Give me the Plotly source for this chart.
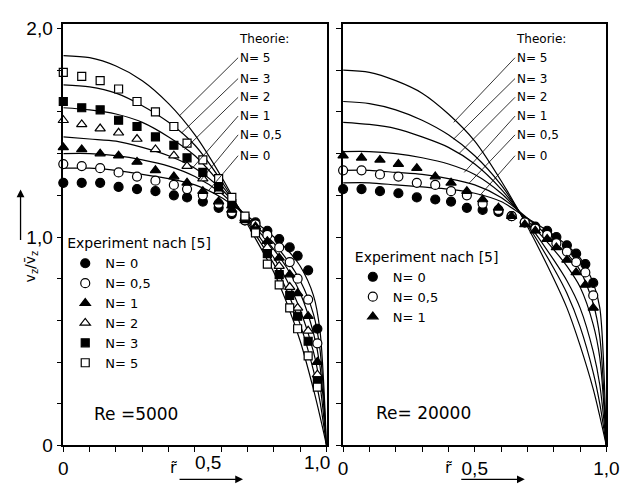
import plotly.graph_objects as go

# ---------------- data ----------------
r_theory = [0, 0.1, 0.2, 0.3, 0.4, 0.5, 0.6, 0.7, 0.8, 0.85, 0.9, 0.95, 0.975, 1.0]

# Re = 5000, theory
th5k_N5 = [1.87, 1.86, 1.82, 1.75, 1.64, 1.49, 1.29, 1.06, 0.83, 0.68, 0.50, 0.27, 0.14, 0]
th5k_N3 = [1.73, 1.72, 1.69, 1.63, 1.55, 1.44, 1.27, 1.07, 0.87, 0.74, 0.58, 0.36, 0.21, 0]
th5k_N2 = [1.62, 1.61, 1.59, 1.55, 1.48, 1.39, 1.25, 1.08, 0.90, 0.79, 0.65, 0.45, 0.29, 0]
th5k_N1 = [1.48, 1.47, 1.46, 1.43, 1.39, 1.33, 1.23, 1.09, 0.94, 0.85, 0.73, 0.54, 0.38, 0]
th5k_N05 = [1.40, 1.40, 1.39, 1.37, 1.34, 1.29, 1.21, 1.09, 0.97, 0.89, 0.79, 0.63, 0.46, 0]
th5k_N0 = [1.33, 1.33, 1.32, 1.30, 1.28, 1.25, 1.19, 1.10, 1.00, 0.94, 0.86, 0.72, 0.55, 0]

# Re = 20000, theory
th20k_N5 = [1.80, 1.79, 1.75, 1.69, 1.59, 1.46, 1.27, 1.05, 0.80, 0.66, 0.48, 0.27, 0.14, 0]
th20k_N3 = [1.65, 1.64, 1.61, 1.56, 1.49, 1.39, 1.25, 1.06, 0.85, 0.73, 0.57, 0.35, 0.20, 0]
th20k_N2 = [1.55, 1.54, 1.52, 1.48, 1.43, 1.35, 1.23, 1.07, 0.89, 0.79, 0.66, 0.45, 0.29, 0]
th20k_N1 = [1.41, 1.41, 1.40, 1.38, 1.35, 1.30, 1.21, 1.08, 0.94, 0.86, 0.76, 0.58, 0.42, 0]
th20k_N05 = [1.32, 1.32, 1.31, 1.30, 1.28, 1.25, 1.19, 1.09, 0.98, 0.92, 0.84, 0.68, 0.52, 0]
th20k_N0 = [1.26, 1.26, 1.25, 1.24, 1.23, 1.21, 1.17, 1.09, 1.01, 0.96, 0.90, 0.78, 0.66, 0]

# Re = 5000, experiment
r_exp5k = [0, 0.07, 0.14, 0.21, 0.28, 0.35, 0.42, 0.47, 0.53, 0.59, 0.64, 0.69, 0.73,
           0.775, 0.82, 0.86, 0.89, 0.93, 0.965]
ex5k_N0 = [1.26, 1.26, 1.26, 1.24, 1.23, 1.22, 1.20, 1.19, 1.17, 1.14, 1.11, 1.08, 1.07,
           1.03, 0.99, 0.95, 0.91, 0.84, 0.56]
ex5k_N05 = [1.35, 1.34, 1.33, 1.31, 1.29, 1.27, 1.25, 1.23, 1.20, 1.16, 1.12, 1.08, 1.06,
            1.01, 0.95, 0.88, 0.80, 0.70, 0.49]
ex5k_N1 = [1.43, 1.42, 1.40, 1.39, 1.36, 1.32, 1.29, 1.26, 1.22, 1.17, 1.13, 1.08, 1.05,
           0.98, 0.90, 0.82, 0.73, 0.62, 0.40]
ex5k_N2 = [1.56, 1.54, 1.52, 1.50, 1.47, 1.42, 1.39, 1.34, 1.28, 1.22, 1.15, 1.09, 1.04,
           0.95, 0.86, 0.76, 0.66, 0.55, 0.34]
ex5k_N3 = [1.65, 1.62, 1.61, 1.56, 1.53, 1.48, 1.44, 1.38, 1.31, 1.24, 1.16, 1.09, 1.03,
           0.92, 0.82, 0.72, 0.62, 0.50, 0.31]
ex5k_N5 = [1.79, 1.77, 1.75, 1.71, 1.65, 1.60, 1.53, 1.45, 1.37, 1.28, 1.19, 1.10, 1.02,
           0.87, 0.77, 0.66, 0.56, 0.43, 0.28]

# Re = 20000, experiment
r_exp20k = [0, 0.07, 0.14, 0.21, 0.28, 0.35, 0.41, 0.47, 0.53, 0.59, 0.64, 0.69, 0.73,
            0.775, 0.81, 0.85, 0.885, 0.92, 0.95]
ex20k_N0 = [1.23, 1.23, 1.22, 1.21, 1.19, 1.18, 1.17, 1.14, 1.13, 1.12, 1.10, 1.07, 1.05,
            1.03, 1.00, 0.96, 0.92, 0.87, 0.78]
ex20k_N05 = [1.32, 1.32, 1.30, 1.29, 1.26, 1.25, 1.22, 1.20, 1.16, 1.13, 1.10, 1.07, 1.04,
             1.01, 0.97, 0.93, 0.88, 0.83, 0.72]
ex20k_N1 = [1.39, 1.38, 1.37, 1.35, 1.33, 1.29, 1.26, 1.22, 1.18, 1.14, 1.10, 1.06, 1.03,
            0.99, 0.95, 0.89, 0.83, 0.77, 0.66]

legend_labels = ["N= 0", "N= 0,5", "N= 1", "N= 2", "N= 3", "N= 5"]
theory_labels = ["N= 5", "N= 3", "N= 2", "N= 1", "N= 0,5", "N= 0"]

x_tickvals = [0, 0.1, 0.2, 0.3, 0.4, 0.5, 0.6, 0.7, 0.8, 0.9, 1.0]
x_ticktext = ["0", "", "", "", "", "0,5", "", "", "", "", "1,0"]
x_ticktext_left = ["0", "", "", "", "", "", "", "", "", "", ""]
y_tickvals = [0, 0.2, 0.4, 0.6, 0.8, 1.0, 1.2, 1.4, 1.6, 1.8, 2.0]
y_ticktext = ["0", "", "", "", "", "1,0", "", "", "", "", "2,0"]

# ---------------- figure ----------------
FONT = "DejaVu Sans, Verdana, sans-serif"
TICKFONT = "Liberation Sans Narrow, Liberation Sans, Arial, sans-serif"
W, H = 633, 499
fig = go.Figure()

def theory(xa, ya, ys):
    fig.add_trace(go.Scatter(x=r_theory, y=ys, mode="lines", xaxis=xa, yaxis=ya,
                             line=dict(color="black", width=1.2, shape="spline", smoothing=0.8),
                             showlegend=False, hoverinfo="skip", cliponaxis=False))

for ys in [th5k_N5, th5k_N3, th5k_N2, th5k_N1, th5k_N05, th5k_N0]:
    theory("x", "y", ys)
for ys in [th20k_N5, th20k_N3, th20k_N2, th20k_N1, th20k_N05, th20k_N0]:
    theory("x2", "y2", ys)

styles = [
    ("circle", "black", 9),
    ("circle", "white", 9),
    ("triangle-up", "black", 9),
    ("triangle-up", "white", 9),
    ("square", "black", 8),
    ("square", "white", 8),
]

exp5k = [ex5k_N0, ex5k_N05, ex5k_N1, ex5k_N2, ex5k_N3, ex5k_N5]
for (sym, col, sz), ys, name in zip(styles, exp5k, legend_labels):
    fig.add_trace(go.Scatter(x=r_exp5k, y=ys, mode="markers", name=name, xaxis="x", yaxis="y",
                             marker=dict(symbol=sym, color=col, size=sz,
                                         line=dict(color="black", width=1.2)),
                             legend="legend", cliponaxis=False))

exp20k = [ex20k_N0, ex20k_N05, ex20k_N1]
for (sym, col, sz), ys, name in zip(styles[:3], exp20k, legend_labels[:3]):
    fig.add_trace(go.Scatter(x=r_exp20k, y=ys, mode="markers", name=name, xaxis="x2", yaxis="y2",
                             marker=dict(symbol=sym, color=col, size=sz,
                                         line=dict(color="black", width=1.2)),
                             legend="legend2", cliponaxis=False))

axis_common = dict(showline=True, linecolor="black", linewidth=1.5, mirror=True,
                   ticks="outside", ticklen=5, tickwidth=1, tickcolor="black",
                   showgrid=False, zeroline=False,
                   tickfont=dict(family=TICKFONT, size=19, color="black"))

legend_common = dict(xanchor="left", yanchor="top", bgcolor="rgba(0,0,0,0)",
                     font=dict(family=FONT, size=13),
                     title=dict(text="Experiment nach [5]", font=dict(family=FONT, size=14)),
                     itemclick=False, itemdoubleclick=False, tracegroupgap=0)

fig.update_layout(
    autosize=True,
    margin=dict(l=0, r=0, t=0, b=0),
    paper_bgcolor="white", plot_bgcolor="white",
    font=dict(family=FONT, color="black"),
    xaxis=dict(domain=[60 / W, 331 / W], range=[0, 1.0], anchor="y",
               tickvals=x_tickvals, ticktext=x_ticktext_left, **axis_common),
    yaxis=dict(domain=[1 - 455 / H, 1 - 19 / H], range=[0, 2.02], anchor="x",
               tickvals=y_tickvals, ticktext=y_ticktext, **axis_common),
    xaxis2=dict(domain=[348 / W, 619 / W], range=[0, 1.0], anchor="y2",
                tickvals=x_tickvals, ticktext=x_ticktext, **axis_common),
    yaxis2=dict(domain=[1 - 455 / H, 1 - 19 / H], range=[0, 2.02], anchor="x2",
                tickvals=y_tickvals, ticktext=[""] * len(y_tickvals), **axis_common),
    legend=dict(x=62 / W, y=1 - 232 / H, **legend_common),
    legend2=dict(x=358 / W, y=1 - 246 / H, **legend_common),
)

ann = []
# left-panel "0,5" and "1,0" labels sit slightly off their ticks (as in the original)
ann.append(dict(x=0.5, y=1 - 460 / H, xref="x", yref="paper", text="0,5", showarrow=False,
                xanchor="left", yanchor="top", xshift=-2,
                font=dict(family=TICKFONT, size=19)))
ann.append(dict(x=1.0, y=1 - 460 / H, xref="x", yref="paper", text="1,0", showarrow=False,
                xanchor="right", yanchor="top", xshift=5,
                font=dict(family=TICKFONT, size=19)))

# Theory labels with leader lines
lab_y = [1.86, 1.76, 1.67, 1.58, 1.49, 1.39]
tips5k = [(0.44, 1.58), (0.45, 1.50), (0.46, 1.42), (0.49, 1.33), (0.52, 1.27), (0.55, 1.22)]
tips20k = [(0.42, 1.55), (0.42, 1.47), (0.44, 1.40), (0.46, 1.31), (0.48, 1.26), (0.52, 1.20)]
for (xa, ya, lx, tips) in [("x", "y", 0.664, tips5k), ("x2", "y2", 0.653, tips20k)]:
    ann.append(dict(x=lx - 0.005, y=1.95, xref=xa, yref=ya, text="Theorie:", showarrow=False,
                    xanchor="left", yanchor="middle", font=dict(family=FONT, size=12)))
    for t, ly, (tx, ty) in zip(theory_labels, lab_y, tips):
        ann.append(dict(x=tx, y=ty, xref=xa, yref=ya, ax=lx, ay=ly, axref=xa, ayref=ya,
                        text=t, showarrow=True, arrowhead=0, arrowwidth=0.8,
                        arrowcolor="black", xanchor="left", yanchor="middle",
                        font=dict(family=FONT, size=12)))

ann.append(dict(x=0.11, y=0.153, xref="x", yref="y", text="Re =5000", showarrow=False,
                xanchor="left", yanchor="middle", font=dict(family=FONT, size=17)))
ann.append(dict(x=0.118, y=0.157, xref="x2", yref="y2", text="Re= 20000", showarrow=False,
                xanchor="left", yanchor="middle", font=dict(family=FONT, size=17)))

# axis titles with arrows
ann.append(dict(x=15 / W, y=1 - 270 / H, xref="paper", yref="paper",
                text="v<sub>z</sub>/v\u0304<sub>z</sub>", textangle=-90, showarrow=False,
                font=dict(family=FONT, size=14)))
ann.append(dict(x=16 / W, y=1 - 190 / H, xref="paper", yref="paper", text="",
                showarrow=True, ax=0, ay=52, arrowhead=2, arrowsize=1.2, arrowwidth=1.3,
                arrowcolor="black"))
for cx, ax0 in [(168, 245), (462, 535)]:
    ann.append(dict(x=cx / W, y=1 - 490 / H, xref="paper", yref="paper",
                    text="r\u0303", showarrow=False, font=dict(family=FONT, size=16)))
    ann.append(dict(x=ax0 / W, y=1 - 490 / H, xref="paper", yref="paper", text="",
                    showarrow=True, ax=-65, ay=0, arrowhead=2, arrowsize=1.2, arrowwidth=1.3,
                    arrowcolor="black"))

fig.update_layout(annotations=ann)
fig.write_html("out.html",
               default_width="100vw", default_height="100vh",
               config={"displayModeBar": False, "responsive": True},
               post_script="document.body.style.margin='0px';"
                           "document.documentElement.style.overflow='hidden';"
                           "document.body.style.overflow='hidden';")
